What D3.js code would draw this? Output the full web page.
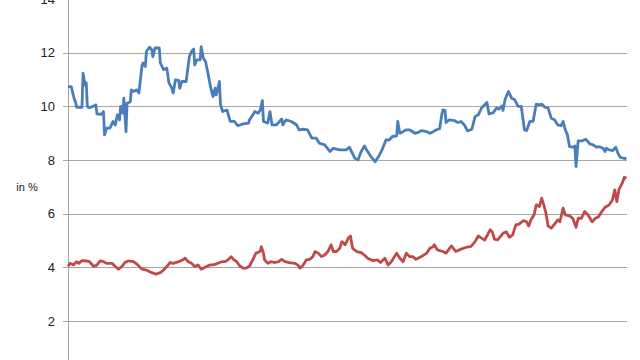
<!DOCTYPE html>
<html><head><meta charset="utf-8">
<script src="https://cdn.jsdelivr.net/npm/d3@7"></script>
<style>html,body{margin:0;padding:0;background:#fff;}svg{display:block;}</style>
</head><body>
<svg id="c" width="640" height="360"></svg>
<script>
// time index (weeks) and values in %
const blueWeeks = [0,3,6,7,8,13,14,16,17,18,20,24,26,27,31,33,34,36,39,42,44,46,48,49,51,52,54,55,58,59,61,64,66,69,70,72,73,76,78,79,81,85,86,89,92,94,96,98,100,103,104,106,110,113,115,117,118,120,123,124,126,128,130,133,135,137,138,141,142,144,148,151,155,158,163,168,169,171,174,177,179,181,182,186,188,190,194,199,200,203,208,213,215,219,223,227,231,234,239,244,247,253,259,262,264,267,270,273,276,278,279,282,286,290,293,296,299,302,306,307,309,312,315,318,323,326,329,334,337,340,343,346,348,349,351,352,355,360,363,366,369,372,376,379,382,385,388,390,392,396,399,401,404,405,407,410,413,416,419,422,425,427,430,433,436,439,441,444,447,450,453,456,459,461,463,465,467,470,472,473,475,479,482,486,489,492,495,498,500,501,504,507,510,512,514,517,520];
const blueValues = [10.74,10.74,10.25,10.18,9.97,9.97,11.24,10.8,10.88,10.0,9.95,10.02,10.06,9.72,9.71,9.81,8.94,9.19,9.19,9.44,9.31,9.69,9.5,10.0,9.75,10.31,9.06,10.12,10.18,10.62,10.56,10.62,10.5,11.55,11.62,11.49,12.05,12.21,12.11,11.86,12.18,12.18,11.62,11.37,11.43,10.87,10.74,10.5,10.99,10.97,10.68,10.93,10.93,11.86,12.05,12.14,11.55,11.74,11.74,12.23,11.8,11.68,11.3,10.68,10.37,10.68,10.43,10.93,10.06,9.81,9.87,9.44,9.44,9.28,9.35,9.38,9.5,9.62,9.81,9.75,9.87,10.22,9.44,9.38,9.81,9.31,9.31,9.53,9.31,9.5,9.44,9.31,9.13,9.15,9.13,8.82,8.82,8.63,8.57,8.32,8.44,8.38,8.38,8.48,8.32,8.07,8.01,8.32,8.53,8.38,8.32,8.13,7.94,8.19,8.44,8.75,8.75,8.88,8.9,9.44,9.0,9.06,9.13,9.13,9.0,9.03,9.1,9.06,9.0,9.06,9.13,9.17,9.69,9.87,9.85,9.4,9.5,9.47,9.4,9.44,9.31,9.09,9.15,9.62,9.69,9.94,10.06,10.15,9.72,9.77,9.94,9.9,10.02,9.85,10.27,10.56,10.31,10.25,10.0,10.0,9.13,9.1,9.44,9.44,10.09,10.06,10.09,9.97,9.94,9.56,9.5,9.31,9.28,9.44,9.13,8.94,8.5,8.48,8.53,7.76,8.72,8.72,8.78,8.6,8.57,8.48,8.5,8.44,8.32,8.44,8.38,8.35,8.48,8.26,8.11,8.07,8.05];
const redWeeks = [0,2,5,8,10,13,17,20,24,27,30,33,36,41,44,47,50,53,56,61,65,69,73,78,82,86,89,92,95,98,103,107,109,112,115,118,121,124,129,132,135,138,143,146,149,152,154,157,160,163,166,169,172,175,179,180,182,183,186,189,193,196,199,202,206,211,214,216,219,222,225,228,230,233,236,239,242,245,247,250,253,255,258,261,263,265,269,273,276,279,284,288,291,295,298,301,306,309,312,315,318,321,324,329,334,337,340,341,344,349,352,357,361,366,371,375,379,382,385,388,393,395,397,400,405,408,411,414,417,420,424,427,429,431,434,436,439,441,443,445,447,450,453,456,458,461,463,467,470,473,475,478,481,484,488,491,494,497,500,504,507,509,511,513,516,518,520];
const redValues = [4.03,4.15,4.09,4.21,4.15,4.25,4.24,4.21,4.03,4.09,4.24,4.21,4.15,4.15,4.03,3.93,4.03,4.18,4.24,4.21,4.09,3.93,3.90,3.80,3.75,3.80,3.90,4.03,4.18,4.15,4.21,4.28,4.34,4.21,4.15,4.03,4.09,3.93,4.03,4.09,4.09,4.13,4.21,4.21,4.28,4.40,4.30,4.21,4.05,3.97,3.97,4.05,4.28,4.53,4.59,4.77,4.53,4.28,4.15,4.21,4.18,4.21,4.30,4.21,4.18,4.15,4.09,3.97,4.09,4.28,4.30,4.40,4.59,4.53,4.40,4.46,4.59,4.84,4.59,4.59,4.71,4.96,4.84,5.09,5.17,4.71,4.59,4.55,4.46,4.34,4.25,4.28,4.18,4.34,4.09,4.21,4.53,4.34,4.21,4.53,4.40,4.40,4.30,4.40,4.53,4.71,4.77,4.84,4.65,4.59,4.53,4.80,4.59,4.68,4.75,4.77,4.96,5.17,5.09,5.02,5.40,5.33,5.05,5.02,5.27,5.33,5.12,5.21,5.58,5.61,5.74,5.70,5.54,5.77,5.96,6.33,6.27,6.58,6.33,6.02,5.54,5.46,5.61,5.77,5.70,6.21,5.96,5.92,5.83,5.49,5.83,5.83,6.08,5.96,5.70,5.83,5.89,6.08,6.24,6.33,6.52,6.89,6.45,6.91,7.14,7.36,7.32];
const yTicks = [2,4,6,8,10,12,14];
const yLabel = "in %";

const svg = d3.select("#c");
const left = 68, right = 627;
const x = d3.scaleLinear().domain([0, 520]).range([left, right - 0.5]);
const y = d3.scaleLinear().domain([0, 14]).range([374.6, -0.8]);

// gridlines + ticks
const g = svg.append("g");
g.selectAll("line.grid").data(yTicks).enter().append("line")
  .attr("x1", left - 5).attr("x2", right)
  .attr("y1", d => Math.round(y(d)) + 0.5).attr("y2", d => Math.round(y(d)) + 0.5)
  .attr("stroke", "#a6a6a6").attr("stroke-width", 1);
g.selectAll("text.tl").data(yTicks).enter().append("text")
  .attr("x", 55).attr("y", d => y(d)).attr("dy", "0.35em")
  .attr("text-anchor", "end").attr("font-family", "Liberation Sans, Arial, sans-serif")
  .attr("font-size", 13).attr("fill", "#222").text(d => d);
// y axis line
svg.append("line").attr("x1", left + 0.5).attr("x2", left + 0.5).attr("y1", 0).attr("y2", 360)
  .attr("stroke", "#a6a6a6").attr("stroke-width", 1);

svg.append("text").attr("x", 27).attr("y", 187).attr("dy", "0.35em")
  .attr("text-anchor", "middle").attr("font-family", "Liberation Sans, Arial, sans-serif")
  .attr("font-size", 11).attr("fill", "#222").text(yLabel);

const line = d3.line().x(d => x(d[0])).y(d => y(d[1]));
const blue = blueWeeks.map((w, i) => [w, blueValues[i]]);
const red = redWeeks.map((w, i) => [w, redValues[i]]);
svg.append("path").datum(blue).attr("d", line).attr("fill", "none")
  .attr("stroke", "#4a7ebb").attr("stroke-width", 2.8).attr("stroke-linejoin", "round");
svg.append("path").datum(red).attr("d", line).attr("fill", "none")
  .attr("stroke", "#be4b48").attr("stroke-width", 2.8).attr("stroke-linejoin", "round");
</script>
</body></html>
